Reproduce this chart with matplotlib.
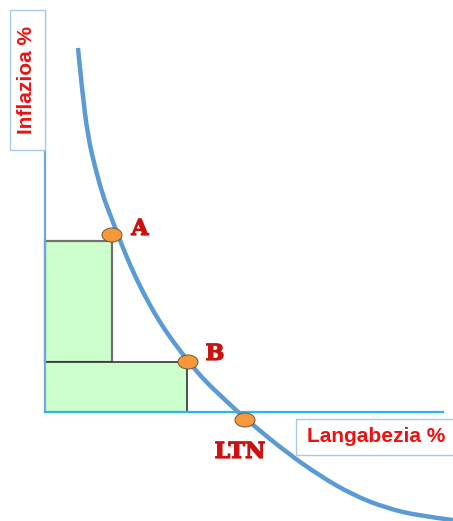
import matplotlib.pyplot as plt
import matplotlib.patheffects as pe
from matplotlib.patches import Rectangle, Ellipse, PathPatch
from matplotlib.path import Path

# Curva de Phillips (unidades arbitrarias)
curva_x = [33, 37, 43, 50, 58, 66, 73, 80, 90, 100, 110, 120, 130, 143, 160, 177, 193,
           208, 241, 275, 308, 341, 375, 408]
curva_y = [364, 322, 275, 245, 216, 195, 177, 159, 136, 116, 98, 82, 68, 51, 31, 15, 0,
           -13, -40, -64, -83, -96, -104, -108]

puntos_nombre = ['A', 'B', 'LTN']
puntos_x = [67, 143, 200]
puntos_y = [177, 50, -8]

# rectangulos bajo A y B
rect_ancho = [67, 142]
rect_alto = [171, 50]
rect_base = [50, 0]

eje_x_fin = 398
eje_y_fin = 398

fig = plt.figure(figsize=(4.53, 5.21), dpi=100)
ax = fig.add_axes([0, 0, 1, 1])
ax.set_xlim(-45, 408)
ax.set_ylim(-109, 412)
ax.axis('off')

# rectangulos verdes
ax.add_patch(Rectangle((0, rect_base[0]), rect_ancho[0], rect_alto[0] - rect_base[0],
                       facecolor='#ccffcc', edgecolor='#707070', lw=1.6, zorder=1))
ax.add_patch(Rectangle((0, rect_base[1]), rect_ancho[1], rect_alto[1] - rect_base[1],
                       facecolor='#ccffcc', edgecolor='#333333', lw=1.2, zorder=1))

# ejes
ax.plot([0, 0], [0, eje_y_fin], color='#6fa8dc', lw=1.6, zorder=2)
ax.plot([0, eje_x_fin], [0, 0], color='#29b6f6', lw=1.6, zorder=2)

# curva suave: bezier cuadratico con los puntos leidos como control
pts = list(zip(curva_x, curva_y))
verts = [pts[0]]
codes = [Path.MOVETO]
for i in range(1, len(pts) - 1):
    medio = ((pts[i][0] + pts[i + 1][0]) / 2, (pts[i][1] + pts[i + 1][1]) / 2)
    if i == len(pts) - 2:
        medio = pts[i + 1]
    verts += [pts[i], medio]
    codes += [Path.CURVE3, Path.CURVE3]
ax.add_patch(PathPatch(Path(verts, codes), facecolor='none', edgecolor='#5b9bd5',
                       lw=3.2, capstyle='butt', zorder=3))

# puntos
for nombre, px, py in zip(puntos_nombre, puntos_x, puntos_y):
    ax.add_patch(Ellipse((px, py), 20, 14, facecolor='#f7983a', edgecolor='#6a5a3a',
                         lw=0.7, zorder=4))

fuente_letras = dict(family='DejaVu Serif', weight='bold', color='#cc1111',
                     fontsize=16, ha='center', va='center',
                     path_effects=[pe.withStroke(linewidth=0.9, foreground='#cc1111')])
ax.text(95, 183, 'A', **fuente_letras)
ax.text(170, 58, 'B', **fuente_letras)
ax.text(195, -40, 'LTN', **fuente_letras)

# etiquetas de los ejes con caja
ax.add_patch(Rectangle((-35, 262), 35, 140, facecolor='white', edgecolor='#a8c8e8', lw=1, zorder=2))
ax.text(-18, 332, 'Inflazioa %', rotation=90, ha='center', va='center',
        family='Liberation Sans', weight='bold', color='#ee1111', fontsize=15, zorder=5)

ax.add_patch(Rectangle((251, -43), 170, 36, facecolor='white', edgecolor='#a8c8e8', lw=1, zorder=2))
ax.text(331, -25, 'Langabezia %', ha='center', va='center',
        family='Liberation Sans', weight='bold', color='#ee1111', fontsize=15, zorder=5)

fig.savefig('out.png', dpi=100)
